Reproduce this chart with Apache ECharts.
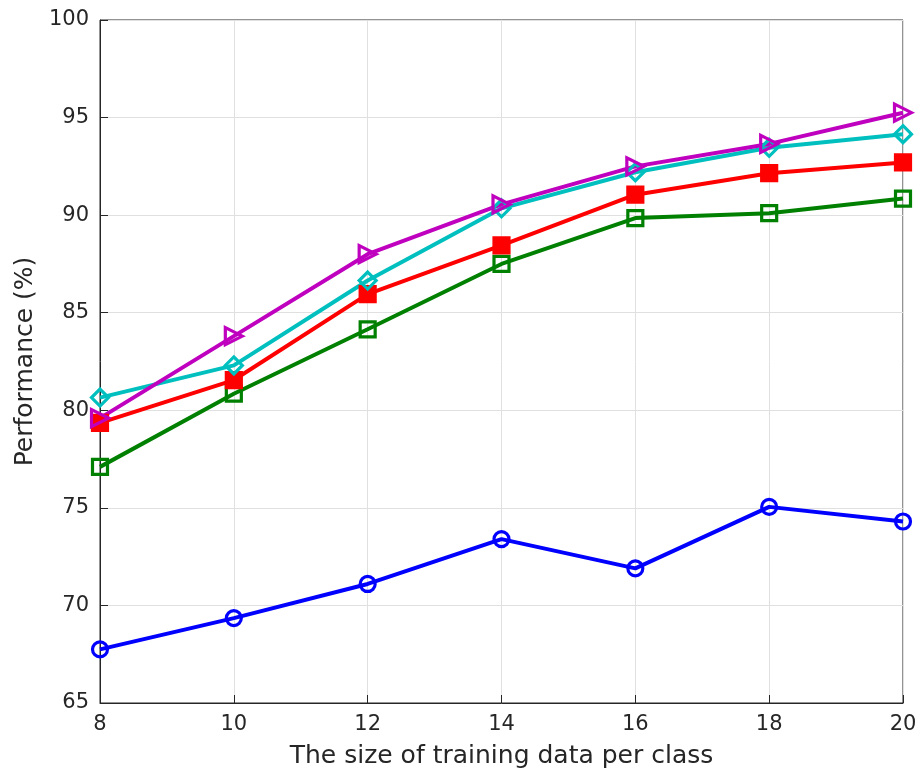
<!DOCTYPE html>
<html><head><meta charset="utf-8">
<script src="https://cdn.jsdelivr.net/npm/echarts@6/dist/echarts.min.js"></script>
<style>html,body{margin:0;padding:0;background:#fff}#c{width:922px;height:776px}</style>
</head><body><div id="c"></div>
<script>
const categories = [8, 10, 12, 14, 16, 18, 20];
const blue = [67.75, 69.35, 71.1, 73.4, 71.9, 75.05, 74.3];
const green = [77.1, 80.85, 84.15, 87.5, 89.85, 90.1, 90.85];
const red = [79.35, 81.55, 85.95, 88.45, 91.05, 92.15, 92.7];
const cyan = [80.65, 82.3, 86.65, 90.35, 92.2, 93.45, 94.15];
const purple = [79.6, 83.8, 88.0, 90.55, 92.5, 93.65, 95.25];
const yTicks = [65, 70, 75, 80, 85, 90, 95, 100];

const chart = echarts.init(document.getElementById('c'));
function pairs(v){ return v.map((y,i)=>[categories[i], y]); }
function s(data, color, symbol, filled, rotate){
  return {type:'line', data:pairs(data), symbol:symbol,
    symbolSize: symbol==='triangle'?17:(symbol==='diamond'?17:15), symbolRotate: rotate||0,
    lineStyle:{color:color,width:4}, z: 3,
    itemStyle:{color: filled?color:'rgba(0,0,0,0)', borderColor:color, borderWidth:3.2},
    emphasis:{disabled:true}};
}
const axisFont = {fontFamily:'DejaVu Sans', fontSize:21, color:'#262626'};
chart.setOption({
  animation:false,
  grid:{left:100, right:19, top:20, bottom:73, show:true, borderColor:'#262626', borderWidth:1},
  xAxis:{type:'value', min:8, max:20, interval:2,
    name:'The size of training data per class', nameLocation:'middle', nameGap:41,
    nameTextStyle:{fontFamily:'DejaVu Sans', fontSize:25, color:'#262626'},
    axisLine:{lineStyle:{color:'#262626'}}, axisTick:{inside:true, length:8, lineStyle:{color:'#262626'}},
    axisLabel:Object.assign({margin:11}, axisFont),
    splitLine:{show:true, lineStyle:{color:'#e0e0e0', width:1}}},
  yAxis:{type:'value', min:65, max:100, interval:5,
    name:'Performance (%)', nameLocation:'middle', nameGap:62, nameRotate:90,
    nameTextStyle:{fontFamily:'DejaVu Sans', fontSize:25, color:'#262626'},
    axisLine:{lineStyle:{color:'#262626'}}, axisTick:{inside:true, length:8, lineStyle:{color:'#262626'}},
    axisLabel:Object.assign({margin:11, formatter:v=>yTicks.includes(v)?String(v):''}, axisFont),
    splitLine:{show:true, lineStyle:{color:'#e0e0e0', width:1}}},
  series:[
    s(blue,'#0000ff','circle',false),
    s(green,'#008000','rect',false),
    s(red,'#ff0000','rect',true),
    s(cyan,'#00bfbf','diamond',false),
    s(purple,'#bf00bf','triangle',false,-90)
  ]
});
</script></body></html>
